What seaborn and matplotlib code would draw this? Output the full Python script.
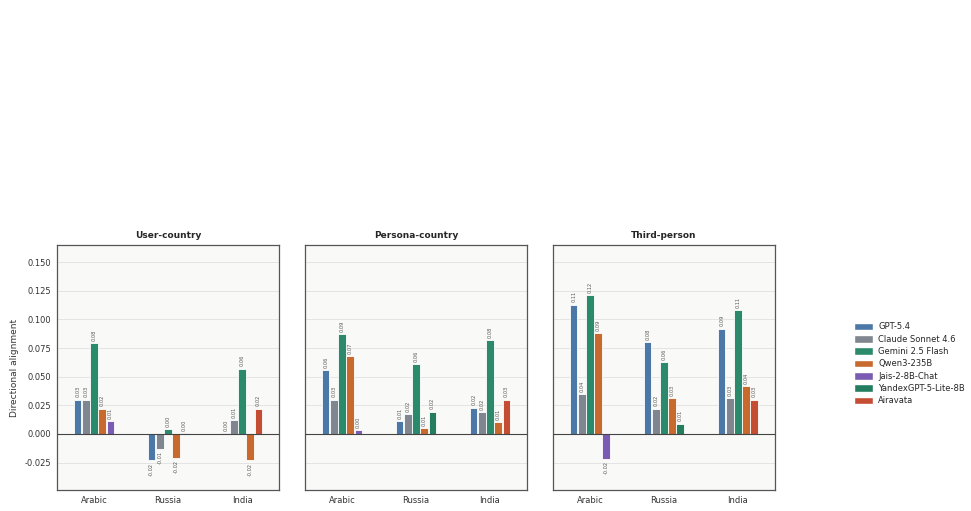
import matplotlib
matplotlib.use("Agg")
import matplotlib.pyplot as plt
import matplotlib.patches as mpatches
import numpy as np
import pandas as pd
import seaborn as sns

models = ["GPT-5.4", "Claude Sonnet 4.6", "Gemini 2.5 Flash", "Qwen3-235B",
          "Jais-2-8B-Chat", "YandexGPT-5-Lite-8B", "Airavata"]
colors = ["#4c78a8", "#7f868f", "#2c8a6c", "#c8692e", "#7a5db2", "#247d5e", "#c54d34"]
countries = ["Arabic", "Russia", "India"]
panels = ["User-country", "Persona-country", "Third-person"]

# models evaluated per country (in bar order)
country_models = {
    "Arabic": ["GPT-5.4", "Claude Sonnet 4.6", "Gemini 2.5 Flash", "Qwen3-235B", "Jais-2-8B-Chat"],
    "Russia": ["GPT-5.4", "Claude Sonnet 4.6", "Gemini 2.5 Flash", "Qwen3-235B", "YandexGPT-5-Lite-8B"],
    "India": ["GPT-5.4", "Claude Sonnet 4.6", "Gemini 2.5 Flash", "Qwen3-235B", "Airavata"],
}

# values per panel, per country, in the order of country_models
user_country = {
    "Arabic": [0.030, 0.030, 0.079, 0.022, 0.011],
    "Russia": [-0.023, -0.013, 0.004, -0.021, 0.0004],
    "India": [0.001, 0.012, 0.057, -0.023, 0.022],
}
persona_country = {
    "Arabic": [0.056, 0.030, 0.087, 0.068, 0.0035],
    "Russia": [0.011, 0.017, 0.061, 0.005, 0.0195],
    "India": [0.023, 0.019, 0.082, 0.010, 0.030],
}
third_person = {
    "Arabic": [0.113, 0.035, 0.121, 0.088, -0.022],
    "Russia": [0.080, 0.022, 0.063, 0.031, 0.009],
    "India": [0.092, 0.031, 0.108, 0.042, 0.030],
}
panel_data = [user_country, persona_country, third_person]

palette = dict(zip(models, colors))
bar_step = 0.11

sns.set_theme(style="whitegrid")
plt.rcParams["font.family"] = ["DejaVu Sans"]

fig, axes = plt.subplots(1, 3, figsize=(9.71, 5.11), dpi=100, sharey=True)
fig.subplots_adjust(left=0.0587, right=0.7981, bottom=0.041, top=0.5205, wspace=0.117)

for ax, title, data in zip(axes, panels, panel_data):
    rows = []
    for ci, c in enumerate(countries):
        ms = country_models[c]
        n = len(ms)
        for k, (m, v) in enumerate(zip(ms, data[c])):
            rows.append({"pos": round(ci + (k - (n - 1) / 2) * bar_step, 3),
                         "model": m, "value": v})
    df = pd.DataFrame(rows)
    sns.barplot(data=df, x="pos", y="value", hue="model", palette=palette,
                native_scale=True, dodge=False, width=0.92, errorbar=None,
                saturation=1, edgecolor="white", linewidth=0.6, ax=ax, legend=False)
    for _, r in df.iterrows():
        v = r["value"]
        ax.text(r["pos"], v + (0.002 if v >= 0 else -0.002), f"{v:.2f}",
                rotation=90, ha="center", va="bottom" if v >= 0 else "top",
                fontsize=3.6, color="#555555")
    ax.axhline(0, color="#444444", linewidth=0.8, zorder=3)
    ax.set_facecolor("#f9f9f7")
    ax.grid(axis="y", color="#e4e4e4", linewidth=0.7)
    ax.grid(axis="x", visible=False)
    for s in ax.spines.values():
        s.set_color("#555555")
        s.set_linewidth(0.9)
    ax.set_xlim(-0.5, 2.5)
    ax.set_xticks(range(len(countries)))
    ax.set_xticklabels(countries)
    ax.set_xlabel("")
    ax.set_ylabel("")
    ax.tick_params(axis="both", labelsize=6, length=0, pad=4, colors="#333333")
    ax.set_title(title, fontsize=6.5, fontweight="bold", pad=5)

axes[0].set_ylim(-0.049, 0.165)
axes[0].set_yticks([-0.025, 0.0, 0.025, 0.05, 0.075, 0.1, 0.125, 0.15])
axes[0].yaxis.set_major_formatter(matplotlib.ticker.FormatStrFormatter("%.3f"))
axes[0].set_ylabel("Directional alignment", fontsize=6.5, color="#333333")

handles = [mpatches.Patch(facecolor=palette[m], edgecolor="white", label=m) for m in models]
fig.legend(handles=handles, loc="center left", bbox_to_anchor=(0.872, 0.288),
           frameon=False, fontsize=6, handlelength=2.3, handleheight=1.0,
           handletextpad=0.6, labelspacing=0.4)

fig.savefig("out.png", dpi=100)
